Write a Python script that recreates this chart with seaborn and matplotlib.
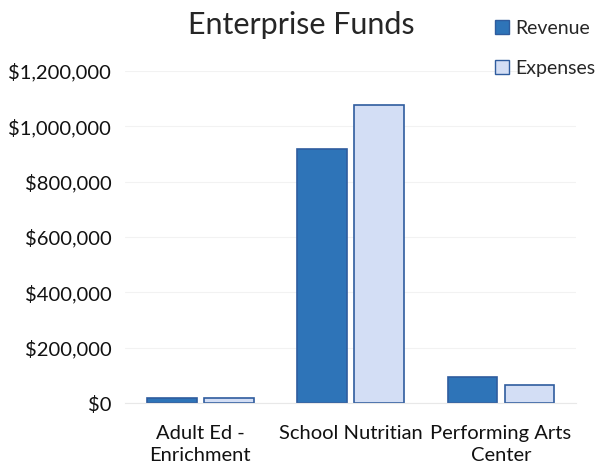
import numpy as np
import pandas as pd
import matplotlib.pyplot as plt
import seaborn as sns
from matplotlib.ticker import FuncFormatter
from matplotlib.patches import Patch

# values
categories = ["Adult Ed -\nEnrichment", "School Nutritian", "Performing Arts\nCenter"]
revenue = [18000, 918000, 94000]
expenses = [17000, 1077000, 65000]

df = pd.DataFrame({
    "Fund": categories * 2,
    "Type": ["Revenue"] * 3 + ["Expenses"] * 3,
    "Amount": revenue + expenses,
})

sns.set_style("white")
plt.rcParams['font.family'] = ['Lato', 'DejaVu Sans']

fig, ax = plt.subplots(figsize=(6.02, 4.72), dpi=100)
fig.subplots_adjust(left=0.208, right=0.957, top=0.850, bottom=0.146)

sns.barplot(data=df, x="Fund", y="Amount", hue="Type",
            palette={"Revenue": "#2e74b8", "Expenses": "#d3def5"},
            saturation=1, width=0.76, gap=0.13, edgecolor="#2f5c9e",
            linewidth=1.2, legend=False, ax=ax)

ax.set_ylim(0, 1200000)
ax.set_yticks(np.arange(0, 1200001, 200000))
ax.yaxis.set_major_formatter(FuncFormatter(lambda v, p: f"${v:,.0f}"))
ax.grid(axis="y", color="#f2f2f2", linewidth=0.8)
ax.set_axisbelow(True)
for s in ["top", "right", "left"]:
    ax.spines[s].set_visible(False)
ax.spines["bottom"].set_color("#e8e8e8")
ax.set_xlabel("")
ax.set_ylabel("")
ax.tick_params(axis="y", labelsize=14.5, colors="#111111", length=0, pad=10)
ax.tick_params(axis="x", labelsize=14.5, colors="#111111", length=0, pad=16)
for t in ax.get_xticklabels():
    t.set_linespacing(1.35)

fig.text(0.5, 0.947, "Enterprise Funds", ha="center", va="center", fontsize=22)

handles = [Patch(facecolor="#2e74b8", edgecolor="#2f5c9e", label="Revenue"),
           Patch(facecolor="#d3def5", edgecolor="#2f5c9e", label="Expenses")]
fig.legend(handles=handles, loc="upper left", bbox_to_anchor=(0.81, 0.975),
           frameon=False, fontsize=14, handlelength=0.7, handleheight=0.7,
           handletextpad=0.3, labelspacing=1.2, borderaxespad=0)

plt.savefig("out.png", dpi=100)
